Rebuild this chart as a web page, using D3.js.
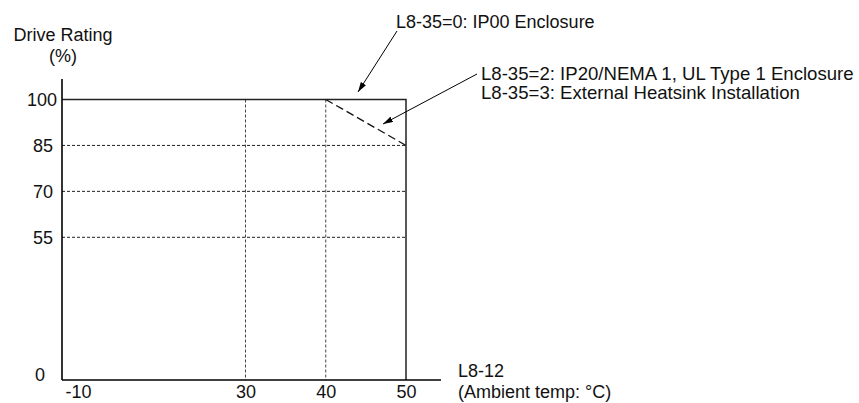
<!DOCTYPE html>
<html>
<head>
<meta charset="utf-8">
<script src="https://cdn.jsdelivr.net/npm/d3@7"></script>
<style>
  html, body { margin: 0; padding: 0; background: #fff; }
  svg { display: block; font-family: "Liberation Sans", Arial, sans-serif; }
</style>
</head>
<body>
<svg id="chart" width="859" height="403"></svg>
<script>
// ---- data ----
const xTicks = [-10, 30, 40, 50];
const yTicks = [0, 55, 70, 85, 100];
const gridX = [30, 40];
const gridY = [55, 70, 85];
// IP00 enclosure rating (solid): 100% up to 50 °C
const ratingIP00 = [[-10, 100], [50, 100], [50, 0]];
// IP20/NEMA1 / external heatsink (dashed derating): 100% at 40 °C to 85% at 50 °C
const ratingIP20 = [[40, 100], [50, 85]];
const yTitle = ["Drive Rating", "(%)"];
const xTitle = ["L8-12", "(Ambient temp: °C)"];
const note1 = ["L8-35=0: IP00 Enclosure"];
const note2 = ["L8-35=2: IP20/NEMA 1, UL Type 1 Enclosure", "L8-35=3: External Heatsink Installation"];

// ---- layout ----
const svg = d3.select("#chart");
const x = d3.scaleLinear().domain([-10, 30, 50]).range([62, 245.5, 406]);
const y = d3.scaleLinear().domain([0, 55, 100]).range([380, 237.3, 99.5]);
const FS = 18;
const FS2 = 18.6;

svg.append("defs").append("marker")
  .attr("id", "ah").attr("viewBox", "0 0 10 6").attr("refX", 10).attr("refY", 3)
  .attr("markerWidth", 10).attr("markerHeight", 6).attr("markerUnits", "userSpaceOnUse")
  .attr("orient", "auto")
  .append("path").attr("d", "M0,0 L10,3 L0,6 Z").attr("fill", "#000");

// grid lines (fine dashes)
svg.append("g").selectAll("line").data(gridY).join("line")
  .attr("x1", x(-10)).attr("x2", x(50))
  .attr("y1", d => y(d)).attr("y2", d => y(d))
  .attr("stroke", "#222").attr("stroke-width", 1).attr("stroke-dasharray", "3,2");
svg.append("g").selectAll("line").data(gridX).join("line")
  .attr("x1", d => x(d)).attr("x2", d => x(d))
  .attr("y1", y(100)).attr("y2", y(0))
  .attr("stroke", "#444").attr("stroke-width", 1).attr("stroke-dasharray", "3,2");

// rating lines
const line = d3.line().x(d => x(d[0])).y(d => y(d[1]));
svg.append("path").datum(ratingIP00).attr("d", line)
  .attr("fill", "none").attr("stroke", "#222").attr("stroke-width", 1.5);
svg.append("path").datum(ratingIP20).attr("d", line)
  .attr("fill", "none").attr("stroke", "#111").attr("stroke-width", 1.3)
  .attr("stroke-dasharray", "8,4");

// axes lines
svg.append("line").attr("x1", x(-10)).attr("x2", x(-10)).attr("y1", 79).attr("y2", y(0))
  .attr("stroke", "#000").attr("stroke-width", 1.6);
svg.append("line").attr("x1", x(-10)).attr("x2", 441).attr("y1", y(0)).attr("y2", y(0))
  .attr("stroke", "#000").attr("stroke-width", 1.6);

// y tick labels
const yAxis = svg.append("g").attr("transform", `translate(${x(-10)},0)`)
  .call(d3.axisLeft(y).tickValues(yTicks).tickFormat(d => String(d)).tickSize(0).tickPadding(5));
yAxis.select(".domain").remove();
yAxis.selectAll("text").attr("font-size", FS).attr("fill", "#111")
  .attr("font-family", "Liberation Sans, Arial, sans-serif")
  .attr("dy", d => d === 0 ? "-0.0em" : "0.32em")
  .attr("dx", d => d === 100 ? 0 : (d === 0 ? -12 : -4));

// x tick labels
const xAxis = svg.append("g").attr("transform", `translate(0,${y(0)})`)
  .call(d3.axisBottom(x).tickValues(xTicks).tickFormat(d => String(d)).tickSize(0).tickPadding(5));
xAxis.select(".domain").remove();
xAxis.selectAll("text").attr("font-size", FS).attr("fill", "#111")
  .attr("font-family", "Liberation Sans, Arial, sans-serif")
  .attr("dx", d => d === -10 ? 16 : 0);

// axis titles
svg.append("text").attr("x", 63).attr("y", 41).attr("text-anchor", "middle")
  .attr("font-size", FS).attr("fill", "#111").text(yTitle[0]);
svg.append("text").attr("x", 63).attr("y", 62).attr("text-anchor", "middle")
  .attr("font-size", FS).attr("fill", "#111").text(yTitle[1]);
svg.append("text").attr("x", 458).attr("y", 377)
  .attr("font-size", FS).attr("fill", "#111").text(xTitle[0]);
svg.append("text").attr("x", 458).attr("y", 398)
  .attr("font-size", FS).attr("fill", "#111").text(xTitle[1]);

// annotations
svg.append("text").attr("x", 396).attr("y", 28)
  .attr("font-size", FS).attr("fill", "#111").text(note1[0]);
note2.forEach((t, i) => svg.append("text").attr("x", 481).attr("y", 80 + i * 19)
  .attr("font-size", FS2).attr("fill", "#111").text(t));

svg.append("line").attr("x1", 397).attr("y1", 31).attr("x2", 358).attr("y2", 92)
  .attr("stroke", "#000").attr("stroke-width", 1).attr("marker-end", "url(#ah)");
svg.append("line").attr("x1", 477).attr("y1", 74).attr("x2", 383).attr("y2", 124)
  .attr("stroke", "#000").attr("stroke-width", 1).attr("marker-end", "url(#ah)");
</script>
</body>
</html>
